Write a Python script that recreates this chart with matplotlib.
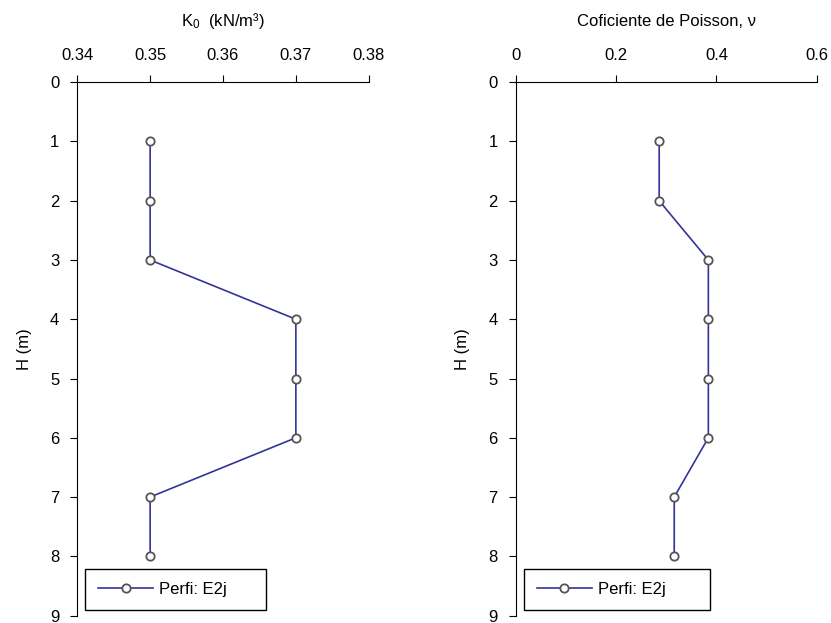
import matplotlib
matplotlib.use("Agg")
import matplotlib.pyplot as plt

plt.rcParams['font.family'] = ['Liberation Sans', 'DejaVu Sans']
plt.rcParams['font.size'] = 12
plt.rcParams['mathtext.fontset'] = 'custom'
plt.rcParams['mathtext.rm'] = 'Liberation Sans'
plt.rcParams['mathtext.it'] = 'Liberation Sans:italic'

depth = [1, 2, 3, 4, 5, 6, 7, 8]
k0 = [0.35, 0.35, 0.35, 0.37, 0.37, 0.37, 0.35, 0.35]
poisson = [0.286, 0.286, 0.384, 0.384, 0.384, 0.384, 0.316, 0.316]
label = "Perfi: E2j"

line_color = "#33339a"


def style_axis(ax, xlim, xticks, xticklabels, xlabel):
    ax.set_xlim(xlim)
    ax.set_ylim(9, 0)
    ax.set_xticks(xticks)
    ax.set_xticklabels(xticklabels)
    ax.set_yticks(range(0, 10))
    ax.xaxis.tick_top()
    ax.xaxis.set_label_position("top")
    ax.set_xlabel(xlabel, labelpad=16)
    ax.set_ylabel("H (m)", labelpad=13)
    ax.spines["right"].set_visible(False)
    ax.spines["bottom"].set_visible(False)
    ax.tick_params(axis="x", direction="out", length=5, pad=9)
    ax.tick_params(axis="y", direction="out", length=5, pad=8)
    leg = ax.legend(loc="lower left", bbox_to_anchor=(0.026, 0.01, 0.62, 0.08),
                    mode="expand", borderaxespad=0, fancybox=False,
                    edgecolor="black", handlelength=3.3, handletextpad=0.35,
                    borderpad=0.8, framealpha=1)
    leg.get_frame().set_linewidth(1.0)


fig = plt.figure(figsize=(8.31, 6.23), dpi=100)
ax1 = fig.add_axes([0.093, 0.012, 0.3507, 0.856])
ax2 = fig.add_axes([0.6206, 0.012, 0.3622, 0.856])

for ax, vals in [(ax1, k0), (ax2, poisson)]:
    ax.plot(vals, depth, color=line_color, linewidth=1.2, marker="o",
            markersize=6, markerfacecolor="white", markeredgecolor="#555555",
            markeredgewidth=1.3, label=label)

style_axis(ax1, (0.34, 0.38), [0.34, 0.35, 0.36, 0.37, 0.38],
           ["0.34", "0.35", "0.36", "0.37", "0.38"],
           "$\\mathregular{K_0}$  (kN/m\u00b3)")
style_axis(ax2, (0, 0.6), [0, 0.2, 0.4, 0.6],
           ["0", "0.2", "0.4", "0.6"], "Coficiente de Poisson, \u03bd")

fig.savefig("out.png", dpi=100)
